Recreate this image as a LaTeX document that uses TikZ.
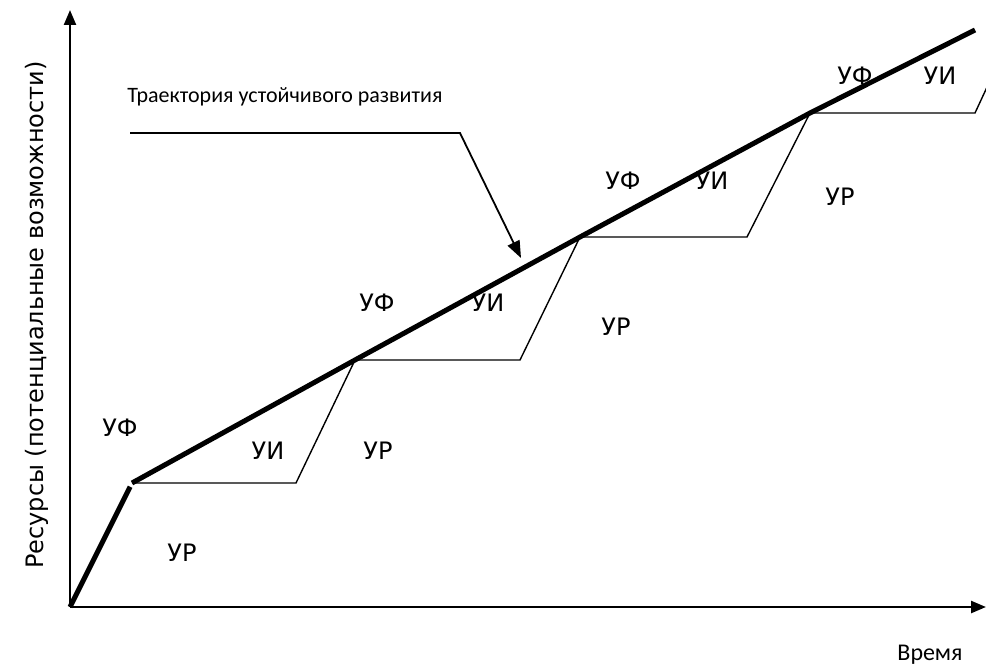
\documentclass[tikz,border=0pt]{standalone}
\usepackage{fontspec}
\setmainfont{DejaVu Sans}
\newfontfamily\calibri{Carlito}
\usetikzlibrary{arrows.meta,calc}
\begin{document}
\begin{tikzpicture}[x=1pt, y=-1pt,
		axis/.style={line width=2.4pt, -{Triangle[length=15pt, width=12pt]}},
		trajectory/.style={line width=5pt},
		level/.style={line width=1.4pt},
		zone/.style={font=\fontsize{24}{28}\selectfont, inner sep=0pt},
		caption/.style={font=\calibri\fontsize{22}{26}\selectfont, inner sep=0pt}]
		\useasboundingbox (0,0) rectangle (986,666);

		\coordinate (O) at (70,607);
		\coordinate (ytop) at (70,10);
		\coordinate (xend) at (986,607);
		\coordinate (P1) at (132,483);
		\coordinate (P2) at (355,360);
		\coordinate (P3) at (580,237);
		\coordinate (P4) at (810,113);
		\coordinate (P5) at (975,30);
		\coordinate (Q1) at (296,483);
		\coordinate (Q2) at (520,360);
		\coordinate (Q3) at (747,237);
		\coordinate (Q4) at (975,113);
		\coordinate (Q5) at (988,85);

		% axes
		\draw[axis] (O) -- (ytop);
		\draw[axis] (O) -- (xend);
		\node[caption, font=\calibri\fontsize{24}{28}\selectfont] (time) at (930,655) {Время};
		\node[font=\fontsize{24}{28}\selectfont, inner sep=0pt, rotate=90] (resources) at (37,315)
			{Ресурсы (потенциальные возможности)};

		% levels
		\draw[level] (P1) -- (Q1) -- (P2) -- (Q2) -- (P3) -- (Q3) -- (P4) -- (Q4) -- (Q5);

		% trajectory
		\draw[trajectory] (O) -- ($(O)!0.97!(P1)$);
		\draw[trajectory, line join=round] (P1) -- (P2) -- (P3) -- (P4) -- (P5);

		% pointer
		\node[caption] (title) at (285,97) {Траектория устойчивого развития};
		\coordinate (tstart) at (130,133);
		\coordinate (tbend) at (460,133);
		\coordinate (ttip) at (521,258);
		\draw[line width=1.8pt, -{Triangle[length=17pt, width=13pt]}] (tstart) -- (tbend) -- (ttip);

		% zones
		\node[zone] (f1) at (120,428) {УФ};
		\node[zone] (i1) at (268,451) {УИ};
		\node[zone] (r1) at (182,553) {УР};
		\node[zone] (r2) at (378,451) {УР};
		\node[zone] (f2) at (377,303) {УФ};
		\node[zone] (i2) at (488,303) {УИ};
		\node[zone] (r3) at (616,327) {УР};
		\node[zone] (f3) at (623,181) {УФ};
		\node[zone] (i3) at (712,181) {УИ};
		\node[zone] (r4) at (840,197) {УР};
		\node[zone] (f4) at (855,76) {УФ};
		\node[zone] (i4) at (940,76) {УИ};
	\end{tikzpicture}
\end{document}
